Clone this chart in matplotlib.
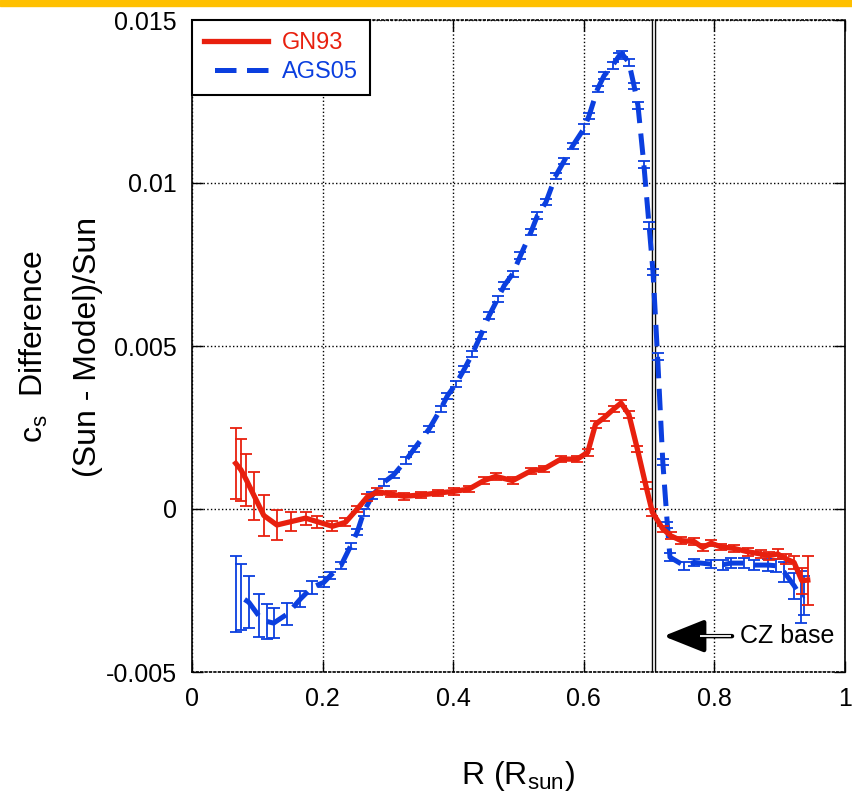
import matplotlib
matplotlib.use('Agg')
import matplotlib.pyplot as plt
from matplotlib.patches import Rectangle

plt.rcParams['font.family'] = ['Liberation Sans', 'DejaVu Sans']
plt.rcParams['mathtext.fontset'] = 'custom'
plt.rcParams['mathtext.rm'] = 'Liberation Sans'

# ==============================================================
# DATA  (sound speed difference)
# ==============================================================

r_gn = [0.067, 0.075, 0.083, 0.095, 0.110, 0.130, 0.151, 0.174, 0.192, 0.215,
        0.235, 0.253, 0.268, 0.284, 0.304, 0.325, 0.350, 0.376, 0.401, 0.424,
        0.447, 0.465, 0.491, 0.519, 0.539, 0.565, 0.590, 0.606, 0.618, 0.631,
        0.646, 0.657, 0.669, 0.682, 0.695, 0.705, 0.721, 0.733, 0.749, 0.769,
        0.782, 0.795, 0.810, 0.830, 0.851, 0.871, 0.884, 0.897, 0.910, 0.922,
        0.934, 0.943]
dc_gn = [0.00140, 0.00120, 0.00090, 0.00041, -0.00020, -0.00049, -0.00039, -0.00028, -0.00039, -0.00053,
         -0.00041, 0.00000, 0.00036, 0.00053, 0.00046, 0.00039, 0.00043, 0.00049, 0.00054, 0.00061,
         0.00087, 0.00100, 0.00087, 0.00117, 0.00123, 0.00153, 0.00153, 0.00174, 0.00260, 0.00280,
         0.00307, 0.00325, 0.00290, 0.00184, 0.00072, -0.00010, -0.00061, -0.00082, -0.00097, -0.00100,
         -0.00118, -0.00105, -0.00116, -0.00121, -0.00131, -0.00138, -0.00143, -0.00138, -0.00153, -0.00164,
         -0.00220, -0.00218]
err_gn = [0.00110, 0.00095, 0.00080, 0.00074, 0.00062, 0.00046, 0.00030, 0.00020, 0.00018, 0.00015,
          0.00012, 0.00010, 0.00010, 0.00010, 0.00010, 0.00010, 0.00010, 0.00010, 0.00010, 0.00010,
          0.00010, 0.00010, 0.00010, 0.00010, 0.00010, 0.00010, 0.00010, 0.00010, 0.00010, 0.00010,
          0.00010, 0.00010, 0.00010, 0.00010, 0.00010, 0.00010, 0.00010, 0.00010, 0.00010, 0.00010,
          0.00010, 0.00010, 0.00010, 0.00010, 0.00012, 0.00012, 0.00012, 0.00015, 0.00015, 0.00020,
          0.00040, 0.00075]

r_ags = [0.067, 0.075, 0.087, 0.102, 0.115, 0.125, 0.146, 0.166, 0.184, 0.202,
         0.212, 0.228, 0.243, 0.253, 0.263, 0.276, 0.294, 0.309, 0.327, 0.340,
         0.363, 0.381, 0.391, 0.404, 0.417, 0.429, 0.442, 0.455, 0.468, 0.478,
         0.491, 0.503, 0.519, 0.529, 0.542, 0.557, 0.570, 0.583, 0.600, 0.608,
         0.621, 0.631, 0.644, 0.654, 0.659, 0.669, 0.677, 0.683, 0.692, 0.700,
         0.706, 0.713, 0.721, 0.728, 0.732, 0.754, 0.769, 0.795, 0.813, 0.825,
         0.846, 0.861, 0.882, 0.894, 0.907, 0.922, 0.933, 0.937]
dc_ags = [-0.00260, -0.00270, -0.00286, -0.00327, -0.00345, -0.00350, -0.00322, -0.00276, -0.00240, -0.00225,
          -0.00204, -0.00174, -0.00113, -0.00071, -0.00010, 0.00041, 0.00082, 0.00105, 0.00148, 0.00184,
          0.00245, 0.00307, 0.00347, 0.00383, 0.00429, 0.00475, 0.00532, 0.00593, 0.00644, 0.00685,
          0.00721, 0.00777, 0.00849, 0.00900, 0.00941, 0.01022, 0.01068, 0.01114, 0.01166, 0.01206,
          0.01288, 0.01329, 0.01360, 0.01390, 0.01395, 0.01370, 0.01298, 0.01237, 0.01056, 0.00869,
          0.00727, 0.00467, 0.00144, -0.00049, -0.00148, -0.00174, -0.00164, -0.00169, -0.00171, -0.00166,
          -0.00166, -0.00172, -0.00172, -0.00174, -0.00194, -0.00235, -0.00271, -0.00266]
err_ags = [0.00117, 0.00100, 0.00080, 0.00065, 0.00055, 0.00045, 0.00035, 0.00025, 0.00020, 0.00015,
           0.00012, 0.00010, 0.00010, 0.00010, 0.00010, 0.00010, 0.00010, 0.00010, 0.00010, 0.00010,
           0.00010, 0.00010, 0.00010, 0.00010, 0.00010, 0.00010, 0.00010, 0.00010, 0.00010, 0.00010,
           0.00010, 0.00010, 0.00010, 0.00010, 0.00010, 0.00010, 0.00010, 0.00010, 0.00015, 0.00010,
           0.00010, 0.00010, 0.00010, 0.00010, 0.00010, 0.00010, 0.00010, 0.00010, 0.00010, 0.00010,
           0.00010, 0.00010, 0.00010, 0.00010, 0.00012, 0.00012, 0.00012, 0.00012, 0.00015, 0.00015,
           0.00015, 0.00015, 0.00018, 0.00020, 0.00030, 0.00040, 0.00080, 0.00060]

x_ticks = [0, 0.2, 0.4, 0.6, 0.8, 1]
x_labels = ['0', '0.2', '0.4', '0.6', '0.8', '1']
y_ticks = [-0.005, 0, 0.005, 0.01, 0.015]
y_labels = ['-0.005', '0', '0.005', '0.01', '0.015']

cz_base = 0.707

red = '#e8200e'
blue = '#0b3fdf'

# ==============================================================
# FIGURE
# ==============================================================

fig = plt.figure(figsize=(8.52, 7.99), dpi=100)
ax = fig.add_axes([192 / 852, 1 - 672 / 799, 653 / 852, 652 / 799])

# orange strip on top
fig.patches.append(Rectangle((0, 1 - 6 / 799), 1, 6 / 799, transform=fig.transFigure,
                             color='#ffc000', zorder=0))

# base of convection zone (double line)
ax.axvline(cz_base, color='black', lw=3.2, zorder=2)
ax.axvline(cz_base, color='#dcdcdc', lw=1.5, zorder=2)

ax.errorbar(r_ags, dc_ags, yerr=err_ags, fmt='none', ecolor=blue,
            elinewidth=1.3, capsize=4, capthick=1.3, zorder=3)
ax.plot(r_ags, dc_ags, color=blue, lw=3.6, linestyle=(4.3, (4.3, 2.1)),
        label='AGS05', zorder=4)

ax.errorbar(r_gn, dc_gn, yerr=err_gn, fmt='none', ecolor=red,
            elinewidth=1.3, capsize=4, capthick=1.3, zorder=5)
ax.plot(r_gn, dc_gn, color=red, lw=3.8, label='GN93', zorder=6)

ax.set_xlim(0, 1)
ax.set_ylim(-0.005, 0.015)
ax.set_xticks(x_ticks)
ax.set_xticklabels(x_labels)
ax.set_yticks(y_ticks)
ax.set_yticklabels(y_labels)
ax.tick_params(direction='in', length=8, width=1, top=True, right=True,
               labelsize=18, pad=11)
ax.grid(True, color='black', linestyle=':', linewidth=1)
for side in ['top', 'bottom']:
    ax.spines[side].set_linestyle(':')
for sp in ax.spines.values():
    sp.set_linewidth(1.2)

# legend: GN93 first
handles, labels = ax.get_legend_handles_labels()
leg = ax.legend(handles[::-1], labels[::-1], loc='upper left', fontsize=17,
                borderaxespad=0, fancybox=False, framealpha=1,
                edgecolor='black', handlelength=2.7, labelcolor=[red, blue],
                borderpad=0.5, labelspacing=0.3, handletextpad=0.6)
leg.get_frame().set_linewidth(1.5)

# CZ base annotation: black head, hollow double-line shaft
ax.annotate('', xy=(0.722, -0.0039), xytext=(0.827, -0.0039),
            arrowprops=dict(arrowstyle='-|>,head_length=1.25,head_width=0.5',
                            mutation_scale=20, color='black', lw=3.2,
                            shrinkA=0, shrinkB=0), zorder=7)
ax.plot([0.778, 0.826], [-0.0039, -0.0039], color='white', lw=1.3, zorder=8,
        solid_capstyle='butt')
ax.text(0.839, -0.0039, 'CZ base', fontsize=18, va='center', ha='left')

# axis labels
fig.text(518 / 852, 1 - 776 / 799, r'R (R$_\mathregular{sun}$)', fontsize=23,
         ha='center', va='center')
fig.text(34 / 852, 1 - 347 / 799, r'c$_\mathregular{s}$  Difference', fontsize=23,
         rotation=90, ha='center', va='center')
fig.text(88 / 852, 1 - 347 / 799, '(Sun - Model)/Sun', fontsize=23,
         rotation=90, ha='center', va='center')

fig.savefig('out.png', dpi=100)
